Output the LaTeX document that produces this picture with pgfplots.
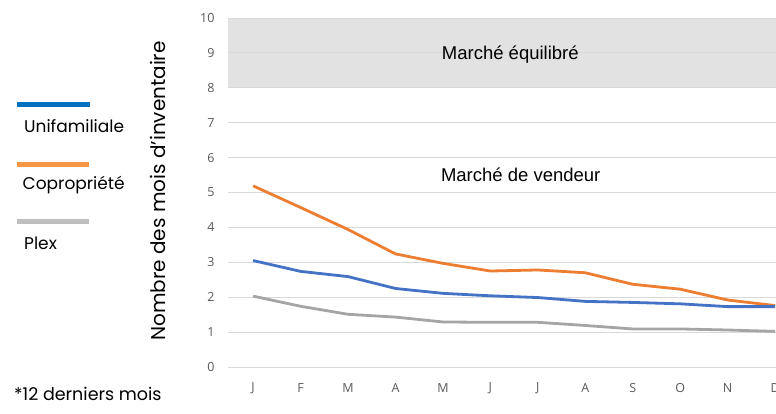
\documentclass[border=0pt]{standalone}
\usepackage{pgfplots}
\pgfplotsset{compat=1.18}
\usepackage{fontspec}
\setmainfont{Poppins}
\newfontfamily\arialf{Liberation Sans}
\newfontfamily\tickf{Open Sans}
\definecolor{cblue}{HTML}{4472C4}
\definecolor{corange}{HTML}{ED7D31}
\definecolor{cgray}{HTML}{A5A5A5}
\definecolor{lblue}{HTML}{0070C0}
\definecolor{lorange}{HTML}{F79646}
\definecolor{lgray}{HTML}{BFBFBF}
\definecolor{gridc}{HTML}{D9D9D9}
\definecolor{bandc}{HTML}{E2E2E2}
\definecolor{tickc}{HTML}{595959}
\begin{document}
\begin{tikzpicture}
\begin{axis}[
  at={(228pt,47pt)}, anchor=south west,
  scale only axis, width=548pt, height=349pt,
  xmin=-0.53, xmax=11.02, ymin=0, ymax=10,
  axis line style={draw=none},
  xtick={0,...,11},
  xticklabels={J,F,M,A,M,J,J,A,S,O,N,D},
  ytick={0,...,10},
  ymajorgrids, grid style={gridc, line width=0.8pt},
  major tick length=0pt,
  tick label style={font=\tickf\fontsize{12.5}{14}\selectfont, text=tickc},
  /pgf/number format/assume math mode=true,
  xticklabel style={anchor=center, yshift=-21pt},
  yticklabel style={anchor=east, xshift=-10pt},
  clip=false,
]
\addplot[draw=none, fill=bandc] coordinates {(-0.53,8.03)(11.02,8.03)(11.02,10)(-0.53,10)} -- cycle;
\draw[gridc, line width=0.8pt] (axis cs:-0.53,9) -- (axis cs:11.02,9);
\draw[gridc, line width=0.8pt] (axis cs:-0.53,10) -- (axis cs:11.02,10);
\addplot[cgray, line width=2.8pt] coordinates {(0,2.03)(1,1.74)(2,1.51)(3,1.43)(4,1.29)(5,1.28)(6,1.28)(7,1.19)(8,1.09)(9,1.09)(10,1.06)(11,1.02)};
\addplot[corange, line width=2.8pt] coordinates {(0,5.19)(1,4.57)(2,3.94)(3,3.24)(4,2.97)(5,2.75)(6,2.78)(7,2.70)(8,2.37)(9,2.23)(10,1.92)(11,1.76)};
\addplot[cblue, line width=2.8pt] coordinates {(0,3.05)(1,2.74)(2,2.59)(3,2.25)(4,2.11)(5,2.04)(6,1.99)(7,1.88)(8,1.85)(9,1.81)(10,1.73)(11,1.73)};
\node[anchor=base, inner sep=0pt, font=\arialf\fontsize{18.5}{20}\selectfont] at (axis cs:5.42,8.80) {Marché équilibré};
\node[anchor=base, inner sep=0pt, font=\arialf\fontsize{18.5}{20}\selectfont] at (axis cs:5.64,5.31) {Marché de vendeur};
\end{axis}
\draw[lblue, line width=5pt] (17pt,309.5pt) -- (90pt,309.5pt);
\draw[lorange, line width=5pt] (17pt,249.7pt) -- (89pt,249.7pt);
\draw[lgray, line width=5pt] (17pt,192.3pt) -- (89pt,192.3pt);
\node[anchor=base west, inner sep=0pt, font=\fontsize{17}{19}\selectfont] at (24pt,281.7pt) {Unifamiliale};
\node[anchor=base west, inner sep=0pt, font=\fontsize{17}{19}\selectfont] at (22.5pt,224pt) {Copropriété};
\node[anchor=base west, inner sep=0pt, font=\fontsize{17}{19}\selectfont] at (24pt,164pt) {Plex};
\node[rotate=90, inner sep=0pt, font=\fontsize{20}{22}\selectfont] at (158pt,223pt) {Nombre des mois d’inventaire};
\node[anchor=base west, inner sep=0pt, font=\fontsize{17.5}{19}\selectfont] at (14pt,13pt) {*12 derniers mois};
\pgfresetboundingbox
\useasboundingbox (0pt,0pt) rectangle (776pt,414pt);
\end{tikzpicture}
\end{document}
